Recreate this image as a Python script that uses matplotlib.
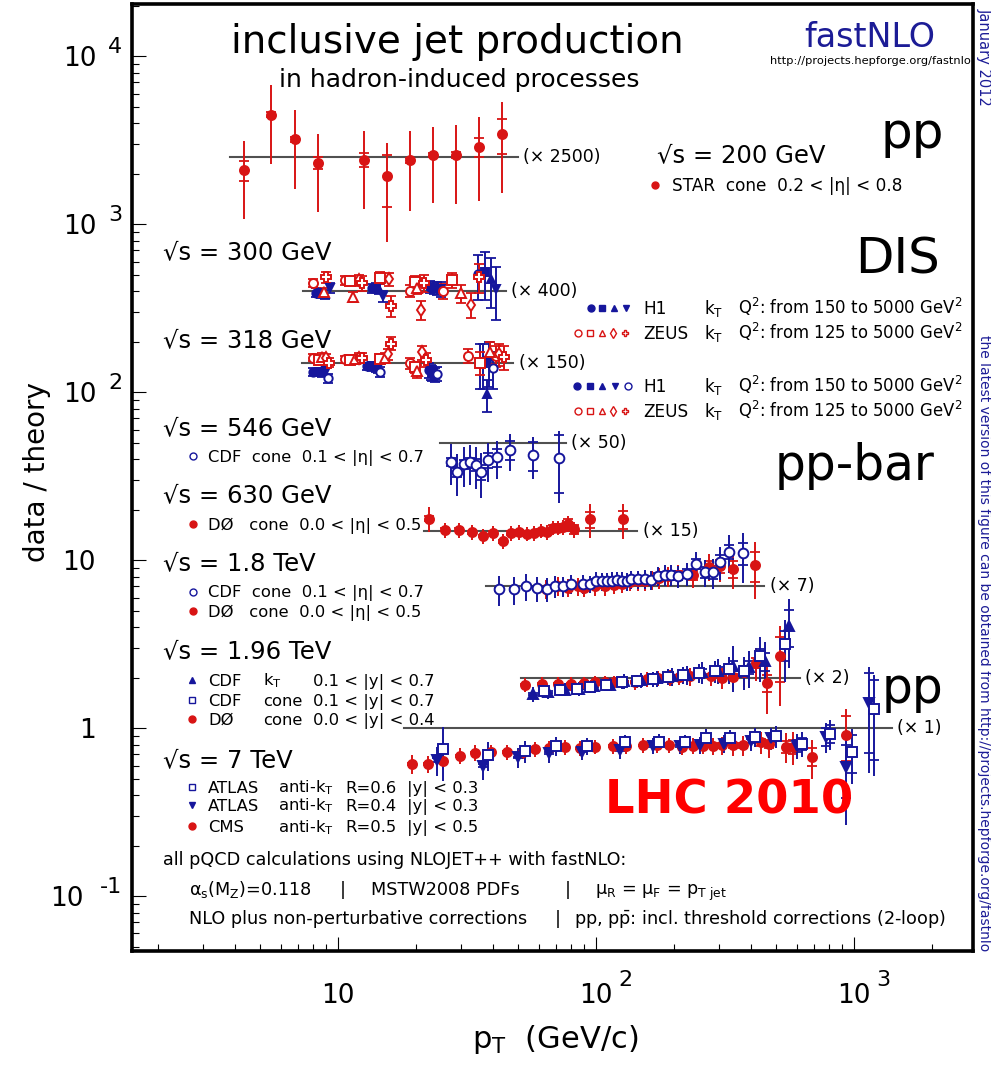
import numpy as np
import matplotlib.pyplot as plt
from matplotlib.lines import Line2D
from matplotlib.ticker import FixedLocator, LogLocator, NullFormatter
import matplotlib.transforms as mtransforms

plt.rcParams['font.family'] = ['DejaVu Sans']
plt.rcParams['mathtext.default'] = 'regular'

W, H = 991, 1065
BLUE = '#16169c'
RED = '#d81414'
NAVY = '#1c1c96'
LINE = '#505050'

# ---- data: pT [GeV], data/theory ratio, relative total and stat. errors ----
# STAR 200 GeV (x2500)
star_pt = [4.33, 5.50, 6.81, 8.36, 12.6, 15.5, 19.0, 23.3, 28.6, 35.2, 43.3]
star_r = [0.84, 1.80, 1.28, 0.93, 0.97, 0.77, 0.96, 1.03, 1.04, 1.15, 1.37]
star_tot = [0.49, 0.49, 0.49, 0.49, 0.49, 0.59, 0.50, 0.48, 0.49, 0.52, 0.55]
star_stat = [0.14, 0.03, 0.03, 0.08, 0.10, 0.34, 0.04, 0.03, 0.04, 0.13, 0.23]

# H1 / ZEUS 300 GeV (x400), one list per Q2 bin
h1_300_pt = [[8.2, 13.5, 22.7, 35.0], [8.6, 14.0, 23.5, 37.0],
             [8.9, 14.4, 24.2, 39.0], [9.3, 15.0, 25.0, 41.0]]
h1_300_r = [[0.98, 1.04, 1.06, 1.27], [0.97, 1.05, 1.05, 1.30],
            [0.96, 1.03, 1.04, 1.18], [1.05, 0.93, 1.03, 1.03]]
h1_300_err = [[0.06, 0.06, 0.08, 0.30], [0.06, 0.06, 0.08, 0.32],
              [0.06, 0.07, 0.09, 0.33], [0.07, 0.08, 0.10, 0.35]]
zeus_300_pt = [[8.0, 10.6, 19.0, 25.6], [11.1, 14.6, 19.8, 27.6],
               [8.8, 11.4, 20.3, 30.0], [12.1, 15.7, 21.0, 32.9],
               [9.0, 12.4, 16.0, 21.6, 35.3]]
zeus_300_r = [[1.12, 1.16, 1.00, 1.00], [1.15, 1.20, 1.14, 1.16],
              [0.99, 0.92, 1.05, 0.97], [1.16, 1.18, 0.77, 0.83],
              [1.21, 1.12, 0.82, 1.12, 1.21]]
zeus_300_err = [[0.06, 0.06, 0.08, 0.10], [0.06, 0.08, 0.08, 0.10],
                [0.06, 0.07, 0.09, 0.12], [0.07, 0.09, 0.13, 0.17],
                [0.08, 0.10, 0.14, 0.12, 0.20]]

# H1 / ZEUS 318 GeV (x150)
h1_318_pt = [[8.0, 13.0, 22.5, 35.5], [8.4, 13.5, 23.2, 36.5],
             [8.7, 14.0, 23.8, 37.7], [9.0, 14.3, 22.9, 38.5],
             [9.1, 14.6, 24.2, 40.0]]
h1_318_r = [[0.88, 0.95, 0.90, 1.00], [0.88, 0.95, 0.87, 0.99],
            [0.88, 0.94, 0.85, 0.65], [0.89, 0.93, 0.88, 1.02],
            [0.81, 0.88, 0.86, 0.93]]
h1_318_err = [[0.05, 0.05, 0.10, 0.30], [0.05, 0.06, 0.10, 0.30],
              [0.06, 0.06, 0.10, 0.22], [0.06, 0.07, 0.10, 0.30],
              [0.06, 0.07, 0.10, 0.25]]
zeus_318_pt = [[8.0, 10.6, 19.0, 32.0, 41.0], [8.4, 11.1, 14.6, 19.8, 35.5],
               [8.7, 11.6, 15.2, 20.3, 38.8], [9.0, 12.1, 15.6, 21.2, 42.0],
               [9.2, 12.4, 16.0, 22.0, 44.0]]
zeus_318_r = [[1.07, 1.05, 0.99, 1.10, 1.10], [1.04, 1.04, 1.05, 0.94, 1.00],
              [1.08, 1.05, 1.07, 0.89, 1.16], [1.06, 1.07, 1.12, 1.15, 1.12],
              [1.00, 1.07, 1.30, 1.04, 1.08]]
zeus_318_err = [[0.05, 0.05, 0.07, 0.10, 0.14], [0.05, 0.05, 0.07, 0.08, 0.15],
                [0.05, 0.06, 0.07, 0.09, 0.15], [0.06, 0.06, 0.08, 0.10, 0.15],
                [0.06, 0.07, 0.09, 0.10, 0.16]]

# CDF 546 GeV (x50)
cdf546_pt = [27.4, 29.0, 30.8, 32.5, 34.3, 35.8, 38.0, 41.3, 46.4, 57.2, 72.0]
cdf546_r = [0.77, 0.667, 0.744, 0.764, 0.737, 0.667, 0.789, 0.819, 0.905, 0.845, 0.807]
cdf546_tot = [0.27, 0.28, 0.27, 0.27, 0.28, 0.30, 0.26, 0.26, 0.25, 0.28, 0.46]
cdf546_stat = [0.05, 0.06, 0.06, 0.07, 0.08, 0.10, 0.10, 0.12, 0.13, 0.20, 0.38]

# D0 630 GeV (x15)
d0630_pt = [22.6, 26.0, 29.5, 33.0, 36.3, 40.0, 43.5, 47.0, 50.4, 54.0, 57.5,
            61.0, 64.5, 68.0, 71.4, 74.6, 78.0, 82.5, 95.0, 127.0]
d0630_r = [1.18, 1.01, 1.01, 0.98, 0.93, 0.97, 0.864, 0.97, 0.98, 0.96, 0.97,
           1.00, 0.98, 1.04, 1.04, 1.05, 1.10, 1.02, 1.17, 1.17]
d0630_tot = [0.17, 0.10, 0.10, 0.10, 0.10, 0.10, 0.10, 0.10, 0.10, 0.10, 0.10,
             0.10, 0.10, 0.10, 0.10, 0.10, 0.11, 0.11, 0.23, 0.24]
d0630_stat = [0.03, 0.02, 0.02, 0.02, 0.02, 0.02, 0.02, 0.03, 0.03, 0.03, 0.03,
              0.03, 0.04, 0.04, 0.05, 0.05, 0.06, 0.06, 0.11, 0.12]

# CDF / D0 1.8 TeV (x7)
cdf18_pt = [42.2, 48.0, 53.4, 58.8, 64.4, 69.1, 74.5, 79.7, 89.0, 94.6, 100, 105,
            110, 115, 121, 126, 132, 137, 145, 155, 164, 174, 185, 195, 208, 226,
            245, 264, 284, 302, 327, 372]
cdf18_r = [0.96, 0.96, 1.00, 0.97, 0.96, 1.00, 1.00, 1.03, 1.03, 1.03, 1.08, 1.07,
           1.07, 1.08, 1.09, 1.08, 1.07, 1.10, 1.10, 1.10, 1.09, 1.15, 1.17, 1.17,
           1.15, 1.19, 1.36, 1.21, 1.21, 1.40, 1.61, 1.57]
cdf18_tot = [0.20, 0.19, 0.18, 0.17, 0.16, 0.15, 0.14, 0.13, 0.13, 0.12, 0.12, 0.12,
             0.12, 0.12, 0.12, 0.12, 0.12, 0.12, 0.12, 0.13, 0.13, 0.13, 0.14, 0.14,
             0.15, 0.16, 0.17, 0.18, 0.20, 0.22, 0.26, 0.33]
cdf18_stat = [0.02, 0.02, 0.02, 0.02, 0.02, 0.02, 0.02, 0.02, 0.02, 0.02, 0.02, 0.02,
              0.02, 0.02, 0.02, 0.03, 0.03, 0.03, 0.03, 0.03, 0.04, 0.04, 0.04, 0.05,
              0.05, 0.06, 0.07, 0.08, 0.09, 0.10, 0.10, 0.15]
d018_pt = [64, 71.4, 78, 85, 90, 99, 108, 117, 126, 135, 145, 155, 165, 175, 190,
           208, 238, 274, 302, 340, 412]
d018_r = [0.96, 1.00, 0.98, 1.00, 0.98, 1.00, 1.00, 1.02, 1.03, 1.06, 1.08, 1.08,
          1.09, 1.12, 1.15, 1.17, 1.16, 1.31, 1.32, 1.27, 1.33]
d018_tot = [0.13, 0.13, 0.12, 0.12, 0.12, 0.12, 0.12, 0.12, 0.12, 0.12, 0.13, 0.13,
            0.13, 0.14, 0.14, 0.15, 0.16, 0.18, 0.20, 0.24, 0.37]
d018_stat = [0.02, 0.02, 0.02, 0.02, 0.02, 0.02, 0.02, 0.02, 0.02, 0.03, 0.03, 0.03,
             0.03, 0.04, 0.04, 0.05, 0.06, 0.08, 0.09, 0.12, 0.20]

# CDF kT, CDF cone, D0 cone at 1.96 TeV (x2)
cdfkt_pt = [57, 65, 75.6, 86, 98, 113, 128, 149, 173, 197, 226, 257, 298, 340, 390, 450, 558]
cdfkt_r = [0.80, 0.82, 0.85, 0.86, 0.89, 0.91, 0.95, 0.97, 0.99, 1.02, 1.04, 1.08,
           1.10, 1.18, 1.16, 1.25, 2.03]
cdfkt_tot = [0.10, 0.09, 0.09, 0.09, 0.09, 0.09, 0.10, 0.10, 0.11, 0.12, 0.13, 0.15,
             0.17, 0.30, 0.25, 0.30, 0.44]
cdfkt_stat = [0.01, 0.01, 0.01, 0.01, 0.01, 0.01, 0.01, 0.02, 0.02, 0.02, 0.03, 0.04,
              0.05, 0.07, 0.09, 0.12, 0.25]
cdfcone_pt = [63, 72.7, 84, 95, 109, 126, 144, 166, 190, 218, 250, 289, 328, 374, 432, 540]
cdfcone_r = [0.83, 0.85, 0.86, 0.88, 0.90, 0.94, 0.95, 0.98, 1.01, 1.04, 1.07, 1.09,
             1.12, 1.09, 1.34, 1.58]
cdfcone_tot = [0.08, 0.08, 0.08, 0.08, 0.08, 0.09, 0.09, 0.10, 0.11, 0.12, 0.13, 0.15,
               0.18, 0.22, 0.30, 0.40]
cdfcone_stat = [0.01, 0.01, 0.01, 0.01, 0.01, 0.01, 0.02, 0.02, 0.02, 0.03, 0.03, 0.04,
                0.05, 0.07, 0.10, 0.20]
d0196_pt = [53, 62, 71, 80, 90, 99, 108, 117, 127, 141, 157, 174, 194, 210, 231, 280,
            309, 340, 375, 416, 460, 516]
d0196_r = [0.91, 0.92, 0.92, 0.92, 0.93, 0.94, 0.94, 0.94, 0.94, 0.94, 0.98, 0.99,
           1.00, 1.01, 1.02, 1.02, 1.00, 1.01, 1.08, 1.23, 0.93, 1.35]
d0196_tot = [0.10, 0.09, 0.09, 0.09, 0.09, 0.09, 0.09, 0.09, 0.09, 0.10, 0.10, 0.10,
             0.11, 0.11, 0.12, 0.13, 0.14, 0.16, 0.18, 0.22, 0.35, 0.50]
d0196_stat = [0.01, 0.01, 0.01, 0.01, 0.01, 0.01, 0.01, 0.01, 0.01, 0.01, 0.01, 0.02,
              0.02, 0.02, 0.02, 0.03, 0.03, 0.04, 0.05, 0.07, 0.12, 0.30]

# ATLAS / CMS 7 TeV (x1)
atlas6_pt = [25.4, 38.0, 53, 70, 92, 129, 175, 222, 267, 330, 415, 500, 630, 805, 980, 1190]
atlas6_r = [0.75, 0.694, 0.733, 0.785, 0.785, 0.826, 0.83, 0.826, 0.88, 0.87, 0.89,
            0.90, 0.81, 0.93, 0.726, 1.30]
atlas6_tot = [0.35, 0.20, 0.15, 0.13, 0.12, 0.11, 0.11, 0.11, 0.12, 0.12, 0.13, 0.15,
              0.17, 0.20, 0.36, 0.60]
atlas6_stat = [0.05, 0.02, 0.01, 0.01, 0.01, 0.01, 0.01, 0.01, 0.01, 0.02, 0.03, 0.05,
               0.08, 0.12, 0.25, 0.50]
atlas4_pt = [24.2, 36.6, 50, 66, 88, 124, 167, 211, 254, 312, 400, 478, 600, 777, 935, 1140]
atlas4_r = [0.648, 0.597, 0.67, 0.71, 0.726, 0.74, 0.785, 0.785, 0.795, 0.81, 0.84,
            0.87, 0.785, 0.89, 0.59, 1.42]
atlas4_tot = [0.20, 0.18, 0.14, 0.12, 0.11, 0.11, 0.11, 0.11, 0.12, 0.12, 0.13, 0.15,
              0.17, 0.20, 0.55, 0.62]
atlas4_stat = [0.03, 0.02, 0.01, 0.01, 0.01, 0.01, 0.01, 0.01, 0.01, 0.02, 0.03, 0.05,
               0.08, 0.12, 0.35, 0.50]
cms_pt = [19.3, 22.4, 25.6, 29.7, 33.9, 39.1, 45.2, 52.3, 58.0, 65.9, 75.6, 86.6, 99.1,
          116, 131, 152, 172, 192, 215, 237, 260, 285, 309, 340, 371, 435, 469, 544,
          580, 688, 930]
cms_r = [0.613, 0.613, 0.641, 0.684, 0.716, 0.72, 0.72, 0.726, 0.75, 0.76, 0.77, 0.76,
         0.777, 0.785, 0.785, 0.79, 0.795, 0.79, 0.777, 0.785, 0.785, 0.785, 0.79, 0.79,
         0.79, 0.826, 0.806, 0.777, 0.777, 0.677, 0.912]
cms_tot = [0.13, 0.12, 0.12, 0.11, 0.11, 0.11, 0.10, 0.10, 0.10, 0.10, 0.10, 0.10, 0.10,
           0.10, 0.10, 0.10, 0.10, 0.10, 0.11, 0.11, 0.11, 0.12, 0.12, 0.13, 0.14, 0.15,
           0.17, 0.20, 0.22, 0.26, 0.43]
cms_stat = [0.01, 0.01, 0.01, 0.01, 0.01, 0.01, 0.01, 0.01, 0.01, 0.01, 0.01, 0.01, 0.01,
            0.01, 0.01, 0.01, 0.01, 0.01, 0.02, 0.02, 0.02, 0.02, 0.03, 0.03, 0.04, 0.05,
            0.06, 0.08, 0.10, 0.12, 0.30]

# reference lines: (pT from, pT to, scale factor)
ref_lo = [3.81, 7.3, 7.23, 24.8, 21.5, 37.5, 51, 18]
ref_hi = [49.7, 44.7, 47.8, 76.3, 144.6, 448, 616, 1400]
ref_scale = [2500, 400, 150, 50, 15, 7, 2, 1]
ref_text = ['(× 2500)', '(× 400)', '(× 150)', '(× 50)', '(× 15)', '(× 7)', '(× 2)', '(× 1)']

# tick labels
ytick_vals = [0.1, 1, 10, 100, 1000, 10000]
ytick_base = ['10', '1', '10', '10', '10', '10']
ytick_exp = ['-1', '', '', '2', '3', '4']
xtick_vals = [10, 100, 1000]
xtick_exp = ['', '2', '3']

# ---- figure ----
fig = plt.figure(figsize=(W / 100, H / 100), dpi=100)
x0, x1, y0, y1 = 131.7, 973.3, 4.0, 951.0
ax = fig.add_axes([x0 / W, 1 - y1 / H, (x1 - x0) / W, (y1 - y0) / H])
ax.set_xscale('log')
ax.set_yscale('log')
ax.set_xlim(1.585, 2900)
ax.set_ylim(0.0472, 20470)

for s in ax.spines.values():
    s.set_linewidth(2.6)
ax.xaxis.set_major_locator(FixedLocator(xtick_vals))
ax.yaxis.set_major_locator(FixedLocator(ytick_vals))
ax.xaxis.set_minor_locator(LogLocator(base=10, subs=np.arange(2, 10), numticks=50))
ax.yaxis.set_minor_locator(LogLocator(base=10, subs=np.arange(2, 10), numticks=50))
ax.xaxis.set_minor_formatter(NullFormatter())
ax.yaxis.set_minor_formatter(NullFormatter())
ax.set_xticklabels([])
ax.set_yticklabels([])
ax.tick_params(which='both', direction='in', top=False, right=False, width=0.8)
ax.tick_params(which='major', length=10)
ax.tick_params(which='minor', length=5)


def draw(pt, r, tot, stat, scale, color, marker, filled=True, ms=6.5, end_caps=False):
    pt = np.asarray(pt, float)
    y = np.asarray(r, float) * scale
    et = np.asarray(tot, float) * y
    ax.vlines(pt, y - et, y + et, color=color, lw=1.4, zorder=2)
    if end_caps:
        es = et
    else:
        es = np.asarray(stat, float) * y
    for yy in (y + es, y - es):
        ax.plot(pt, yy, ls='none', marker='_', ms=7, mew=1.3, color=color, zorder=2)
    ax.plot(pt, y, ls='none', marker=marker, ms=ms, mec=color, mew=1.4,
            mfc=color if filled else 'white', zorder=3)


# reference lines with scale factors
for lo, hi, sc, txt in zip(ref_lo, ref_hi, ref_scale, ref_text):
    ax.plot([lo, hi], [sc, sc], color=LINE, lw=1.5, zorder=1)
    ax.annotate(txt, (hi, sc), xytext=(4, 0), textcoords='offset points',
                va='center', ha='left', fontsize=12.5)

draw(star_pt, star_r, star_tot, star_stat, 2500, RED, 'o')

h1_marks = [('o', True), ('s', True), ('^', True), ('v', True), ('o', False)]
zeus_marks = [('o', False), ('s', False), ('^', False), ('d', False), ('P', False)]
for p, r, e, (m, f) in zip(h1_300_pt, h1_300_r, h1_300_err, h1_marks):
    draw(p, r, e, None, 400, BLUE, m, f, ms=6, end_caps=True)
for p, r, e, (m, f) in zip(zeus_300_pt, zeus_300_r, zeus_300_err, zeus_marks):
    draw(p, r, e, None, 400, RED, m, f, ms=6.5, end_caps=True)
for p, r, e, (m, f) in zip(h1_318_pt, h1_318_r, h1_318_err, h1_marks):
    draw(p, r, e, None, 150, BLUE, m, f, ms=6, end_caps=True)
for p, r, e, (m, f) in zip(zeus_318_pt, zeus_318_r, zeus_318_err, zeus_marks):
    draw(p, r, e, None, 150, RED, m, f, ms=6.5, end_caps=True)

draw(cdf546_pt, cdf546_r, cdf546_tot, cdf546_stat, 50, BLUE, 'o', False, ms=7)
draw(d0630_pt, d0630_r, d0630_tot, d0630_stat, 15, RED, 'o')
draw(d018_pt, d018_r, d018_tot, d018_stat, 7, RED, 'o')
draw(cdf18_pt, cdf18_r, cdf18_tot, cdf18_stat, 7, BLUE, 'o', False, ms=7)
draw(d0196_pt, d0196_r, d0196_tot, d0196_stat, 2, RED, 'o')
draw(cdfkt_pt, cdfkt_r, cdfkt_tot, cdfkt_stat, 2, BLUE, '^', ms=6.5)
draw(cdfcone_pt, cdfcone_r, cdfcone_tot, cdfcone_stat, 2, BLUE, 's', False, ms=7)
draw(cms_pt, cms_r, cms_tot, cms_stat, 1, RED, 'o')
draw(atlas4_pt, atlas4_r, atlas4_tot, atlas4_stat, 1, BLUE, 'v', ms=6.5)
draw(atlas6_pt, atlas6_r, atlas6_tot, atlas6_stat, 1, BLUE, 's', False, ms=7)

# ---- tick labels, ROOT style: full-size exponents ----
ytr = mtransforms.blended_transform_factory(fig.transFigure, ax.transData)
for v, b, e in zip(ytick_vals, ytick_base, ytick_exp):
    right = 96 if not e else (97 if len(e) == 1 else 84)
    tb = mtransforms.offset_copy(ytr, fig=fig, x=0, y=-10, units='dots')
    ax.text(right / W, v, b, transform=tb, ha='right', va='baseline', fontsize=19, clip_on=False)
    if e:
        te = mtransforms.offset_copy(ytr, fig=fig, x=0, y=3, units='dots')
        ax.text(122 / W, v, e, transform=te, ha='right', va='baseline', fontsize=16, clip_on=False)

xtr = mtransforms.blended_transform_factory(ax.transData, fig.transFigure)
for v, e in zip(xtick_vals, xtick_exp):
    ax.text(v, 1 - 1003 / H, '10', transform=xtr, ha='center', va='baseline', fontsize=19, clip_on=False)
    if e:
        te = mtransforms.offset_copy(xtr, fig=fig, x=22, y=0, units='dots')
        ax.text(v, 1 - 986 / H, e, transform=te, ha='left', va='baseline', fontsize=16, clip_on=False)

fig.text(37 / W, 1 - 472 / H, 'data / theory', rotation=90, ha='center', va='center', fontsize=20)
fig.text(555 / W, 1 - 1040 / H, '$p_T$  (GeV/c)', ha='center', va='center', fontsize=22)


# ---- annotations ----
SMALL = 11.8


def label(x, y, s, size=SMALL, **kw):
    fig.text(x / W, 1 - y / H, s, fontsize=size, va='baseline', **kw)


def key(x, y, marker, color, filled=True, ms=5):
    fig.add_artist(Line2D([x / W], [1 - y / H], transform=fig.transFigure, ls='none',
                          marker=marker, ms=ms, mec=color, mew=1.0,
                          mfc=color if filled else 'white'))


label(457, 53, 'inclusive jet production', 28, ha='center')
label(459, 87, 'in hadron-induced processes', 18, ha='center')
label(870, 46.7, 'fastNLO', 24, ha='center', color=NAVY)
label(971, 64, 'http://projects.hepforge.org/fastnlo', 8.2, ha='right')
fig.text(984 / W, 1 - 8 / H, 'January 2012', rotation=-90, ha='center', va='top',
         fontsize=10.5, color=NAVY)
fig.text(984 / W, 1 - 335 / H,
         'the latest version of this figure can be obtained from http://projects.hepforge.org/fastnlo',
         rotation=-90, ha='center', va='top', fontsize=10, color=NAVY)

label(912, 148, 'pp', 36, ha='center')
label(898, 273, 'DIS', 36, ha='center')
label(855, 480, 'pp-bar', 35, ha='center')
label(912, 703, 'pp', 35, ha='center')
label(729, 813, 'LHC 2010', 33.5, ha='center', color='#ff0000', fontweight='bold')

label(657, 161.7, '√s = 200 GeV', 17.5)
key(655, 185, 'o', RED)
label(672, 191, 'STAR  cone  0.2 < |η| < 0.8', 12.2)

label(163, 259.5, '√s = 300 GeV', 17.5)
label(163, 346.7, '√s = 318 GeV', 17.5)
dis_rows = [(314, 'H1', '150', 'B4'), (339, 'ZEUS', '125', 'Z'),
            (392, 'H1', '150', 'B5'), (416.5, 'ZEUS', '125', 'Z')]
h1_key_x = [590.7, 601.7, 614, 626.3, 627.7]
h1_key5_x = [577.3, 590, 601.7, 614.5, 627.7]
zeus_key_x = [578.3, 590, 601.7, 613.3, 625]
for yb, name, q2, kind in dis_rows:
    yc = yb - 6
    if kind == 'B4':
        for xk, (m, f) in zip(h1_key_x[:4], h1_marks[:4]):
            key(xk, yc, m, BLUE, f, ms=5)
    elif kind == 'B5':
        for xk, (m, f) in zip(h1_key5_x, h1_marks):
            key(xk, yc, m, BLUE, f, ms=5)
    else:
        for xk, (m, f) in zip(zeus_key_x, zeus_marks):
            key(xk, yc, m, RED, f, ms=5)
    label(643, yb, name, 12.2)
    label(704, yb, 'k$_T$', 12.2)
    label(738, yb, 'Q$^2$: from ' + q2 + ' to 5000 GeV$^2$', 11.9)

label(163, 435, '√s = 546 GeV', 17.5)
key(193, 455.5, 'o', BLUE, False)
label(208, 461.7, 'CDF  cone  0.1 < |η| < 0.7')

label(163, 501.7, '√s = 630 GeV', 17.5)
key(193, 524, 'o', RED)
label(208, 530, 'DØ   cone  0.0 < |η| < 0.5')

label(163, 570, '√s = 1.8 TeV', 17.5)
key(193, 591.5, 'o', BLUE, False)
label(208, 597.3, 'CDF  cone  0.1 < |η| < 0.7')
key(193, 610.7, 'o', RED)
label(208, 616.7, 'DØ   cone  0.0 < |η| < 0.5')

label(163, 658.3, '√s = 1.96 TeV', 17.5)
tev_rows = [(685.7, '^', True, BLUE, 'CDF', 'k$_T$', '0.1 < |y| < 0.7'),
            (705.7, 's', False, BLUE, 'CDF', 'cone', '0.1 < |y| < 0.7'),
            (725.0, 'o', True, RED, 'DØ', 'cone', '0.0 < |y| < 0.4')]
for yb, m, f, c, name, alg, rap in tev_rows:
    key(192, yb - 6, m, c, f)
    label(208, yb, name)
    label(262.7, yb, alg)
    label(312.7, yb, rap)

label(163, 766.7, '√s = 7 TeV', 17.5)
lhc_rows = [(792.7, 's', False, BLUE, 'ATLAS', 'R=0.6', '|y| < 0.3'),
            (810.7, 'v', True, BLUE, 'ATLAS', 'R=0.4', '|y| < 0.3'),
            (832.3, 'o', True, RED, 'CMS', 'R=0.5', '|y| < 0.5')]
for yb, m, f, c, name, rr, yy in lhc_rows:
    key(192, yb - 6, m, c, f)
    label(208, yb, name)
    label(278, yb, 'anti-k$_T$')
    label(345, yb, rr)
    label(407, yb, yy)

label(163, 865, 'all pQCD calculations using NLOJET++ with fastNLO:', 12.7)
label(188.6, 895, r'$\alpha_s(M_Z)$=0.118', 12.7)
label(340, 895, '|', 12.7)
label(371, 895, 'MSTW2008 PDFs', 12.7)
label(565, 895, '|', 12.7)
label(595, 895, r'$\mu_R$ = $\mu_F$ = $p_{T\ jet}$', 12.7)
label(188.6, 924, 'NLO plus non-perturbative corrections', 12.7)
label(555, 924, '|', 12.7)
label(574, 924, r'pp, p$\bar{p}$: incl. threshold corrections (2-loop)', 12.7)

fig.savefig('out.png', dpi=100)
